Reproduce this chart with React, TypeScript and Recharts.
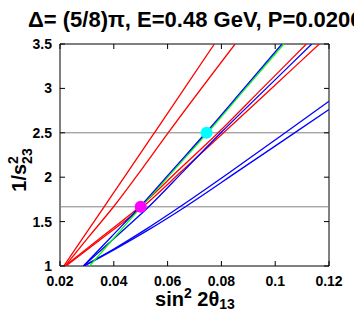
import {
  ComposedChart,
  Line,
  Scatter,
  XAxis,
  YAxis,
  ReferenceLine,
  ReferenceArea,
} from 'recharts'

// plot frame (gnuplot style box with inward ticks)
const W = 354
const H = 311
const PLOT_L = 60
const PLOT_R = 329
const PLOT_T = 44
const PLOT_B = 266
const TICK = 5
const FONT = '"Liberation Sans", Arial, Helvetica, sans-serif'

const xTicks = [0.02, 0.04, 0.06, 0.08, 0.1, 0.12]
const xTickLabels = ['0.02', '0.04', '0.06', '0.08', '0.1', '0.12']
const yTicks = [1, 1.5, 2, 2.5, 3, 3.5]
const yTickLabels = ['1', '1.5', '2', '2.5', '3', '3.5']

// horizontal guides 1/s23^2
const guideLevels = [2.5, 5 / 3]

// steep red curves
const red1 = [
  { x: 0.0214, y: 1 }, { x: 0.0289, y: 1.333 }, { x: 0.0364, y: 1.667 },
  { x: 0.0439, y: 2.0 }, { x: 0.0551, y: 2.5 }, { x: 0.0774, y: 3.5 },
]
const red2 = [
  { x: 0.0219, y: 1 }, { x: 0.0308, y: 1.333 }, { x: 0.0399, y: 1.667 },
  { x: 0.0482, y: 2.0 }, { x: 0.0602, y: 2.5 }, { x: 0.0851, y: 3.5 },
]
// flatter red curves through the magenta point
const red3 = [
  { x: 0.0218, y: 1 }, { x: 0.0357, y: 1.333 }, { x: 0.0496, y: 1.667 },
  { x: 0.0642, y: 2.083 }, { x: 0.0788, y: 2.5 }, { x: 0.0952, y: 3.0 }, { x: 0.1116, y: 3.5 },
]
const red4 = [
  { x: 0.0222, y: 1 }, { x: 0.0365, y: 1.333 }, { x: 0.0508, y: 1.667 },
  { x: 0.0658, y: 2.083 }, { x: 0.0808, y: 2.5 }, { x: 0.0986, y: 3.0 }, { x: 0.1164, y: 3.5 },
]
// blue / green band through both points
const blueBand = [
  { x: 0.0287, y: 1 }, { x: 0.0392, y: 1.333 }, { x: 0.0497, y: 1.667 },
  { x: 0.0619, y: 2.083 }, { x: 0.0742, y: 2.5 }, { x: 0.0884, y: 3.0 }, { x: 0.1025, y: 3.5 },
]
const greenBand = [
  { x: 0.031, y: 1 }, { x: 0.0406, y: 1.333 }, { x: 0.0502, y: 1.667 },
  { x: 0.0625, y: 2.083 }, { x: 0.0748, y: 2.5 }, { x: 0.089, y: 3.0 }, { x: 0.1032, y: 3.5 },
]
const blue3 = [
  { x: 0.0287, y: 1 }, { x: 0.0409, y: 1.333 }, { x: 0.053, y: 1.667 },
  { x: 0.0664, y: 2.083 }, { x: 0.0798, y: 2.5 }, { x: 0.0967, y: 3.0 }, { x: 0.1136, y: 3.5 },
]
// lower blue pair
const blue4 = [
  { x: 0.0287, y: 1 }, { x: 0.04, y: 1.192 }, { x: 0.0516, y: 1.407 }, { x: 0.0646, y: 1.667 },
  { x: 0.083, y: 2.053 }, { x: 0.1023, y: 2.47 }, { x: 0.12, y: 2.855 },
]
const blue5 = [
  { x: 0.029, y: 1 }, { x: 0.0405, y: 1.19 }, { x: 0.053, y: 1.409 }, { x: 0.0665, y: 1.665 },
  { x: 0.087, y: 2.085 }, { x: 0.1065, y: 2.485 }, { x: 0.12, y: 2.762 },
]

const magentaPoint = [{ x: 0.05, y: 5 / 3 }]
const cyanPoint = [{ x: 0.0745, y: 2.5 }]

const series = [
  { key: 'r1', data: red1, color: '#ff0000' },
  { key: 'r2', data: red2, color: '#ff0000' },
  { key: 'b4', data: blue4, color: '#0000ff' },
  { key: 'b5', data: blue5, color: '#0000ff' },
  { key: 'r3', data: red3, color: '#ff0000' },
  { key: 'r4', data: red4, color: '#ff0000' },
  { key: 'b3', data: blue3, color: '#0000ff' },
  { key: 'g', data: greenBand, color: '#00ff00' },
  { key: 'b1', data: blueBand, color: '#0000ff' },
]

function XTick({ x, payload }: any) {
  const i = xTicks.indexOf(payload.value)
  return (
    <g>
      <line x1={x} x2={x} y1={PLOT_B} y2={PLOT_B - TICK} stroke="#000" />
      <line x1={x} x2={x} y1={PLOT_T} y2={PLOT_T + TICK} stroke="#000" />
      <text x={x} y={PLOT_B + 20} textAnchor="middle" fontFamily={FONT} fontWeight="bold" fontSize={14} fill="#000">
        {xTickLabels[i]}
      </text>
    </g>
  )
}

function YTick({ y, payload }: any) {
  const i = yTicks.indexOf(payload.value)
  return (
    <g>
      <line x1={PLOT_L} x2={PLOT_L + TICK} y1={y} y2={y} stroke="#000" />
      <line x1={PLOT_R} x2={PLOT_R - TICK} y1={y} y2={y} stroke="#000" />
      <text x={PLOT_L - 8} y={y + 5} textAnchor="end" fontFamily={FONT} fontWeight="bold" fontSize={14} fill="#000">
        {yTickLabels[i]}
      </text>
    </g>
  )
}

const dotShape = (color: string) => (p: any) => <circle cx={p.cx} cy={p.cy} r={6} fill={color} />

export default function App() {
  return (
    <div style={{ position: 'absolute', left: 0, top: 0, width: W, height: H, background: '#fff' }}>
      <ComposedChart
        width={W}
        height={H}
        margin={{ top: PLOT_T, right: W - PLOT_R, bottom: 0, left: 0 }}
      >
        <XAxis
          dataKey="x"
          type="number"
          domain={[0.02, 0.12]}
          ticks={xTicks}
          allowDataOverflow
          height={H - PLOT_B}
          tickLine={false}
          axisLine={false}
          tick={<XTick />}
          interval={0}
        />
        <YAxis
          dataKey="y"
          type="number"
          domain={[1, 3.5]}
          ticks={yTicks}
          allowDataOverflow
          width={PLOT_L}
          tickLine={false}
          axisLine={false}
          tick={<YTick />}
          interval={0}
        />
        {guideLevels.map((v) => (
          <ReferenceLine key={v} y={v} stroke="#808080" strokeWidth={1} />
        ))}
        {series.map((s) => (
          <Line
            key={s.key}
            data={s.data}
            dataKey="y"
            type="monotone"
            stroke={s.color}
            strokeWidth={1.3}
            dot={false}
            activeDot={false}
            isAnimationActive={false}
          />
        ))}
        <Scatter data={magentaPoint} dataKey="y" shape={dotShape('#ff00ff')} isAnimationActive={false} />
        <Scatter data={cyanPoint} dataKey="y" shape={dotShape('#00ffff')} isAnimationActive={false} />
        <ReferenceArea x1={0.02} x2={0.12} y1={1} y2={3.5} fill="none" stroke="#000" strokeWidth={1} />
      </ComposedChart>
      <svg
        width={W}
        height={H}
        style={{ position: 'absolute', left: 0, top: 0, pointerEvents: 'none' }}
        fontFamily={FONT}
        fontWeight="bold"
      >
        <text x={28} y={27} fontSize={22} fill="#000">
          Δ= (5/8)π, E=0.48 GeV, P=0.0206
        </text>
        <text transform="translate(26,170) rotate(-90)" textAnchor="middle" fontSize={20} fill="#000">
          1/s
          <tspan dy={-8} fontSize={14}>2</tspan>
          <tspan dx={-7.8} dy={14} fontSize={14}>23</tspan>
        </text>
        <text x={195} y={306} textAnchor="middle" fontSize={20} fill="#000">
          sin
          <tspan dy={-8} fontSize={14}>2</tspan>
          <tspan dy={8}> 2θ</tspan>
          <tspan dy={3} fontSize={14}>13</tspan>
        </text>
      </svg>
    </div>
  )
}
